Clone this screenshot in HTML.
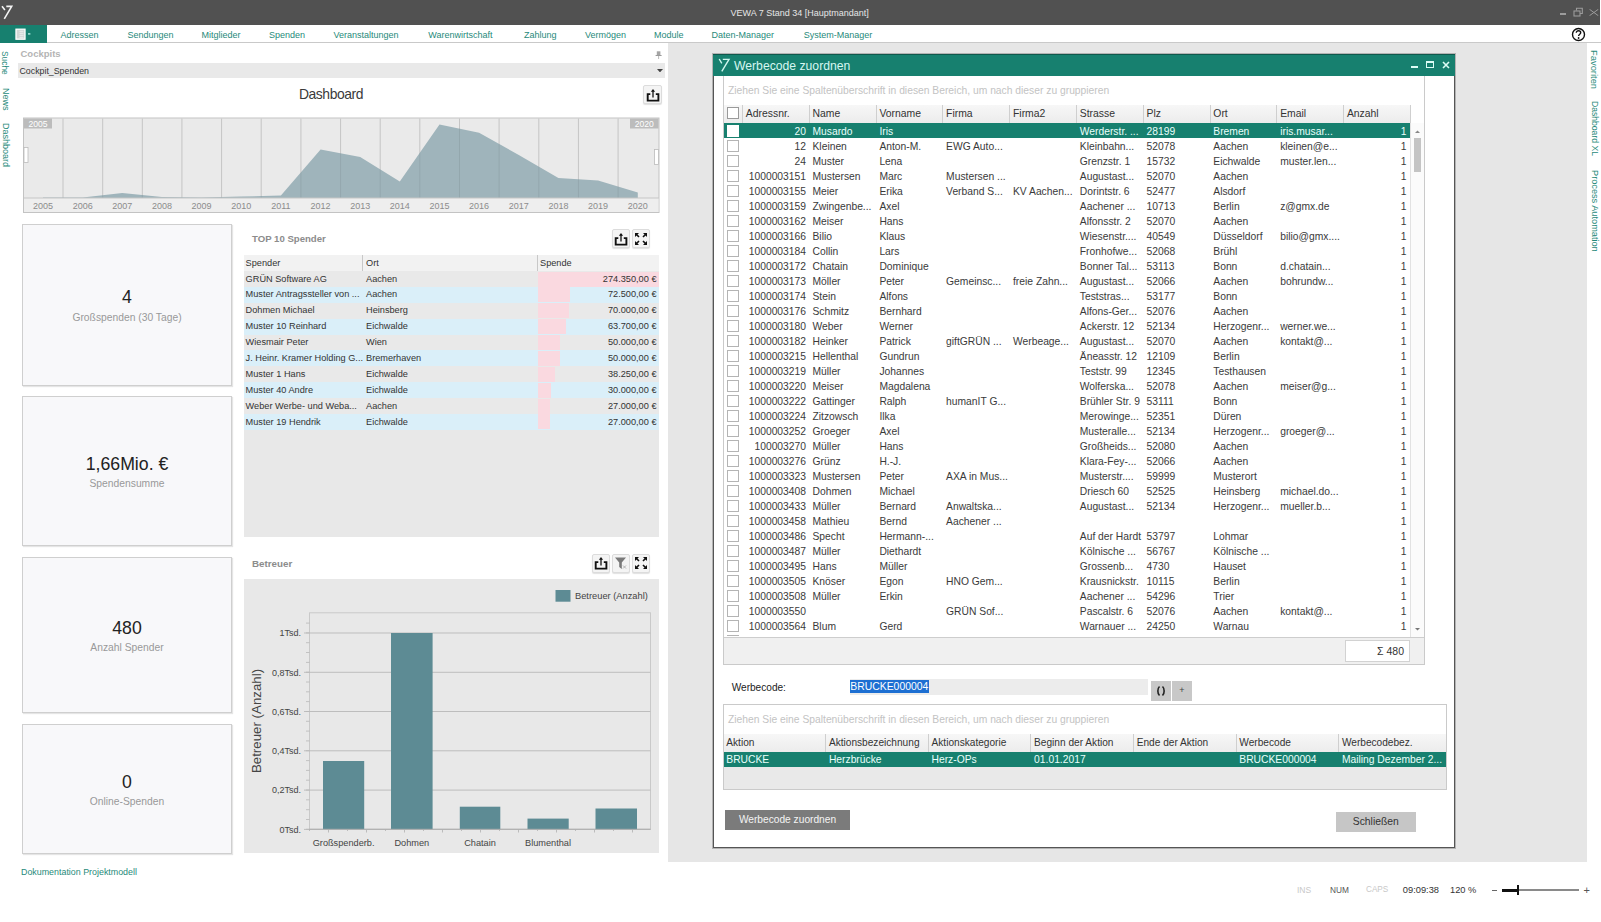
<!DOCTYPE html><html><head><meta charset="utf-8"><title>VEWA</title><style>
*{margin:0;padding:0;box-sizing:border-box}
html,body{width:1601px;height:922px;overflow:hidden;background:#fff;font-family:"Liberation Sans",sans-serif;color:#333}
.a{position:absolute}
.t{position:absolute;white-space:nowrap;line-height:1}
.vt{position:absolute;writing-mode:vertical-rl;white-space:nowrap;line-height:1;color:#1f8a7a}
</style></head><body>
<div class="a" style="left:0;top:0;width:1600px;height:24.5px;background:#515151"></div>
<div class="t" style="left:730.5px;top:8.5px;font-size:9px;color:#e6e6e6">VEWA 7 Stand 34 [Hauptmandant]</div>
<div class="a" style="left:0;top:24.5px;width:1601px;height:18.5px;background:#fff;border-bottom:1px solid #c9c9c9"></div>
<div class="a" style="left:0;top:24.5px;width:46.5px;height:18px;background:#17806f"></div>
<div class="t" style="left:60.5px;top:31px;font-size:9px;color:#1f8a7a">Adressen</div>
<div class="t" style="left:127.4px;top:31px;font-size:9px;color:#1f8a7a">Sendungen</div>
<div class="t" style="left:201.4px;top:31px;font-size:9px;color:#1f8a7a">Mitglieder</div>
<div class="t" style="left:268.9px;top:31px;font-size:9px;color:#1f8a7a">Spenden</div>
<div class="t" style="left:333.4px;top:31px;font-size:9px;color:#1f8a7a">Veranstaltungen</div>
<div class="t" style="left:428.3px;top:31px;font-size:9px;color:#1f8a7a">Warenwirtschaft</div>
<div class="t" style="left:524px;top:31px;font-size:9px;color:#1f8a7a">Zahlung</div>
<div class="t" style="left:585px;top:31px;font-size:9px;color:#1f8a7a">Vermögen</div>
<div class="t" style="left:654px;top:31px;font-size:9px;color:#1f8a7a">Module</div>
<div class="t" style="left:711.5px;top:31px;font-size:9px;color:#1f8a7a">Daten-Manager</div>
<div class="t" style="left:803.7px;top:31px;font-size:9px;color:#1f8a7a">System-Manager</div>
<div class="a" style="left:668px;top:43px;width:918.5px;height:819px;background:#e6e6e6"></div>
<div class="vt" style="left:0.8px;top:50.5px;font-size:8.4px">Suche</div>
<div class="vt" style="left:0.8px;top:88px;font-size:9px">News</div>
<div class="vt" style="left:0.8px;top:122.5px;font-size:9px">Dashboard</div>
<div class="t" style="left:20.5px;top:49px;font-size:9.5px;font-weight:bold;color:#b4b4b4">Cockpits</div>
<svg class="a" style="left:654.5px;top:51px" width="7" height="8" viewBox="0 0 7 8"><rect x="1.8" y="0.3" width="3.6" height="3.8" fill="#a4a4a4"/><rect x="0.6" y="4" width="6" height="1" fill="#9a9a9a"/><rect x="3.1" y="5" width="1" height="3" fill="#bbb"/></svg>
<div class="a" style="left:18px;top:63px;width:647px;height:15px;background:#e9e9e9"></div>
<div class="t" style="left:19.5px;top:67px;font-size:8.8px;color:#333">Cockpit_Spenden</div>
<svg class="a" style="left:656.8px;top:68.8px" width="6" height="3.4" viewBox="0 0 6 3.4"><path d="M0 0H6L3 3.4Z" fill="#444"/></svg>
<div class="t" style="left:299px;top:88.3px;font-size:13.9px;letter-spacing:-0.45px;color:#3a3a3a">Dashboard</div>
<div class="a" style="left:643px;top:85px;width:19px;height:19px;background:#f4f4f4;border:1px solid #dcdcdc;border-radius:2px;box-shadow:0 1px 1px rgba(0,0,0,.12)"></div>
<svg class="a" style="left:645.5px;top:87.5px" width="14" height="14" viewBox="0 0 14 14"><path d="M4.3 6.1H1.7V12.6H12.4V6.1H9.8" fill="none" stroke="#111" stroke-width="1.9"/><path d="M7 2.8V9.5" stroke="#111" stroke-width="1.3"/><path d="M4.9 3.7L7 0.9L9.1 3.7Z" fill="#111"/></svg>
<svg class="a" style="left:0;top:0" width="680" height="230" viewBox="0 0 680 230"><rect x="23.5" y="118" width="635.5" height="94.5" fill="#eaeaea" stroke="#c3c3c3" stroke-width="1"/><rect x="24" y="198" width="634.5" height="14" fill="#eeeeee"/><line x1="63.0" y1="118.5" x2="63.0" y2="198" stroke="#d4d4d4" stroke-width="1"/><line x1="102.7" y1="118.5" x2="102.7" y2="198" stroke="#d4d4d4" stroke-width="1"/><line x1="142.3" y1="118.5" x2="142.3" y2="198" stroke="#d4d4d4" stroke-width="1"/><line x1="181.9" y1="118.5" x2="181.9" y2="198" stroke="#d4d4d4" stroke-width="1"/><line x1="221.6" y1="118.5" x2="221.6" y2="198" stroke="#d4d4d4" stroke-width="1"/><line x1="261.2" y1="118.5" x2="261.2" y2="198" stroke="#d4d4d4" stroke-width="1"/><line x1="300.9" y1="118.5" x2="300.9" y2="198" stroke="#d4d4d4" stroke-width="1"/><line x1="340.6" y1="118.5" x2="340.6" y2="198" stroke="#d4d4d4" stroke-width="1"/><line x1="380.2" y1="118.5" x2="380.2" y2="198" stroke="#d4d4d4" stroke-width="1"/><line x1="419.8" y1="118.5" x2="419.8" y2="198" stroke="#d4d4d4" stroke-width="1"/><line x1="459.5" y1="118.5" x2="459.5" y2="198" stroke="#d4d4d4" stroke-width="1"/><line x1="499.1" y1="118.5" x2="499.1" y2="198" stroke="#d4d4d4" stroke-width="1"/><line x1="538.8" y1="118.5" x2="538.8" y2="198" stroke="#d4d4d4" stroke-width="1"/><line x1="578.4" y1="118.5" x2="578.4" y2="198" stroke="#d4d4d4" stroke-width="1"/><line x1="618.1" y1="118.5" x2="618.1" y2="198" stroke="#d4d4d4" stroke-width="1"/><polygon points="43.0,198 43.0,197.5 82.7,197.5 122.3,193 161.9,197 201.6,197.5 241.2,196.5 280.9,195.5 320.6,149.4 360.2,157 399.8,181.6 439.5,124.6 479.1,132.7 518.8,155 558.4,178 598.1,180.4 637.8,192.5 637.8,198" fill="#9fb4bb"/><line x1="63.0" y1="118.5" x2="63.0" y2="198" stroke="rgba(0,0,0,0.07)" stroke-width="1"/><line x1="102.7" y1="118.5" x2="102.7" y2="198" stroke="rgba(0,0,0,0.07)" stroke-width="1"/><line x1="142.3" y1="118.5" x2="142.3" y2="198" stroke="rgba(0,0,0,0.07)" stroke-width="1"/><line x1="181.9" y1="118.5" x2="181.9" y2="198" stroke="rgba(0,0,0,0.07)" stroke-width="1"/><line x1="221.6" y1="118.5" x2="221.6" y2="198" stroke="rgba(0,0,0,0.07)" stroke-width="1"/><line x1="261.2" y1="118.5" x2="261.2" y2="198" stroke="rgba(0,0,0,0.07)" stroke-width="1"/><line x1="300.9" y1="118.5" x2="300.9" y2="198" stroke="rgba(0,0,0,0.07)" stroke-width="1"/><line x1="340.6" y1="118.5" x2="340.6" y2="198" stroke="rgba(0,0,0,0.07)" stroke-width="1"/><line x1="380.2" y1="118.5" x2="380.2" y2="198" stroke="rgba(0,0,0,0.07)" stroke-width="1"/><line x1="419.8" y1="118.5" x2="419.8" y2="198" stroke="rgba(0,0,0,0.07)" stroke-width="1"/><line x1="459.5" y1="118.5" x2="459.5" y2="198" stroke="rgba(0,0,0,0.07)" stroke-width="1"/><line x1="499.1" y1="118.5" x2="499.1" y2="198" stroke="rgba(0,0,0,0.07)" stroke-width="1"/><line x1="538.8" y1="118.5" x2="538.8" y2="198" stroke="rgba(0,0,0,0.07)" stroke-width="1"/><line x1="578.4" y1="118.5" x2="578.4" y2="198" stroke="rgba(0,0,0,0.07)" stroke-width="1"/><line x1="618.1" y1="118.5" x2="618.1" y2="198" stroke="rgba(0,0,0,0.07)" stroke-width="1"/><line x1="24" y1="198" x2="659" y2="198" stroke="#c6c6c6" stroke-width="1.2"/><rect x="24" y="118.5" width="28" height="10" fill="#bcbcbc"/><rect x="630" y="118.5" width="28.5" height="10" fill="#bcbcbc"/><text x="38" y="126.8" font-size="8.6" fill="#fff" text-anchor="middle" font-family="Liberation Sans">2005</text><text x="644.3" y="126.8" font-size="8.6" fill="#fff" text-anchor="middle" font-family="Liberation Sans">2020</text><text x="43.0" y="208.5" font-size="9" fill="#8c8c8c" text-anchor="middle" font-family="Liberation Sans">2005</text><text x="82.7" y="208.5" font-size="9" fill="#8c8c8c" text-anchor="middle" font-family="Liberation Sans">2006</text><text x="122.3" y="208.5" font-size="9" fill="#8c8c8c" text-anchor="middle" font-family="Liberation Sans">2007</text><text x="161.9" y="208.5" font-size="9" fill="#8c8c8c" text-anchor="middle" font-family="Liberation Sans">2008</text><text x="201.6" y="208.5" font-size="9" fill="#8c8c8c" text-anchor="middle" font-family="Liberation Sans">2009</text><text x="241.2" y="208.5" font-size="9" fill="#8c8c8c" text-anchor="middle" font-family="Liberation Sans">2010</text><text x="280.9" y="208.5" font-size="9" fill="#8c8c8c" text-anchor="middle" font-family="Liberation Sans">2011</text><text x="320.6" y="208.5" font-size="9" fill="#8c8c8c" text-anchor="middle" font-family="Liberation Sans">2012</text><text x="360.2" y="208.5" font-size="9" fill="#8c8c8c" text-anchor="middle" font-family="Liberation Sans">2013</text><text x="399.8" y="208.5" font-size="9" fill="#8c8c8c" text-anchor="middle" font-family="Liberation Sans">2014</text><text x="439.5" y="208.5" font-size="9" fill="#8c8c8c" text-anchor="middle" font-family="Liberation Sans">2015</text><text x="479.1" y="208.5" font-size="9" fill="#8c8c8c" text-anchor="middle" font-family="Liberation Sans">2016</text><text x="518.8" y="208.5" font-size="9" fill="#8c8c8c" text-anchor="middle" font-family="Liberation Sans">2017</text><text x="558.4" y="208.5" font-size="9" fill="#8c8c8c" text-anchor="middle" font-family="Liberation Sans">2018</text><text x="598.1" y="208.5" font-size="9" fill="#8c8c8c" text-anchor="middle" font-family="Liberation Sans">2019</text><text x="637.8" y="208.5" font-size="9" fill="#8c8c8c" text-anchor="middle" font-family="Liberation Sans">2020</text><rect x="24" y="147.5" width="4" height="15" fill="#fff" stroke="#bbb" stroke-width="0.8"/><rect x="654.5" y="149.5" width="4" height="15" fill="#fff" stroke="#bbb" stroke-width="0.8"/></svg>
<div class="a" style="left:22px;top:223.5px;width:210px;height:162.0px;background:#f8f8fa;border:1px solid #cfcfcf;box-shadow:1px 1px 1px rgba(0,0,0,.10)"></div>
<div class="t" style="left:22px;width:210px;text-align:center;top:289.3px;font-size:17.7px;color:#222">4</div>
<div class="t" style="left:22px;width:210px;text-align:center;top:312.5px;font-size:10.3px;color:#999">Großspenden (30 Tage)</div>
<div class="a" style="left:22px;top:396px;width:210px;height:150px;background:#f8f8fa;border:1px solid #cfcfcf;box-shadow:1px 1px 1px rgba(0,0,0,.10)"></div>
<div class="t" style="left:22px;width:210px;text-align:center;top:455.8px;font-size:17.7px;color:#222">1,66Mio. €</div>
<div class="t" style="left:22px;width:210px;text-align:center;top:479.0px;font-size:10.3px;color:#999">Spendensumme</div>
<div class="a" style="left:22px;top:557px;width:210px;height:156px;background:#f8f8fa;border:1px solid #cfcfcf;box-shadow:1px 1px 1px rgba(0,0,0,.10)"></div>
<div class="t" style="left:22px;width:210px;text-align:center;top:619.8px;font-size:17.7px;color:#222">480</div>
<div class="t" style="left:22px;width:210px;text-align:center;top:643.0px;font-size:10.3px;color:#999">Anzahl Spender</div>
<div class="a" style="left:22px;top:724px;width:210px;height:130px;background:#f8f8fa;border:1px solid #cfcfcf;box-shadow:1px 1px 1px rgba(0,0,0,.10)"></div>
<div class="t" style="left:22px;width:210px;text-align:center;top:773.8px;font-size:17.7px;color:#222">0</div>
<div class="t" style="left:22px;width:210px;text-align:center;top:797.0px;font-size:10.3px;color:#999">Online-Spenden</div>
<div class="t" style="left:252px;top:234px;font-size:9.6px;font-weight:bold;color:#8c8c8c">TOP 10 Spender</div>
<div class="a" style="left:611.5px;top:229px;width:18px;height:19px;background:#f4f4f4;border:1px solid #dcdcdc;border-radius:2px;box-shadow:0 1px 1px rgba(0,0,0,.12)"></div>
<svg class="a" style="left:613.5px;top:231.5px" width="14" height="14" viewBox="0 0 14 14"><path d="M4.3 6.1H1.7V12.6H12.4V6.1H9.8" fill="none" stroke="#111" stroke-width="1.9"/><path d="M7 2.8V9.5" stroke="#111" stroke-width="1.3"/><path d="M4.9 3.7L7 0.9L9.1 3.7Z" fill="#111"/></svg>
<div class="a" style="left:631.5px;top:229px;width:18px;height:19px;background:#f4f4f4;border:1px solid #dcdcdc;border-radius:2px;box-shadow:0 1px 1px rgba(0,0,0,.12)"></div>
<svg class="a" style="left:633.5px;top:231.5px" width="14" height="14" viewBox="0 0 14 14" fill="#111"><path d="M1 1H5L1 5Z"/><path d="M13 1H9L13 5Z"/><path d="M1 13H5L1 9Z"/><path d="M13 13H9L13 9Z"/><path d="M2 2L5 5M12 2L9 5M2 12L5 9M12 12L9 9" stroke="#111" stroke-width="1.6"/></svg>
<div class="a" style="left:243.5px;top:254.5px;width:415.5px;height:282.5px;background:#e8e8e8"></div>
<div class="a" style="left:243.5px;top:254.5px;width:415.5px;height:16.5px;background:#f2f2f2"></div>
<div class="a" style="left:362px;top:255px;width:1px;height:16px;background:#c8c8c8"></div>
<div class="a" style="left:537px;top:255px;width:1px;height:16px;background:#c8c8c8"></div>
<div class="t" style="left:245.6px;top:258.5px;font-size:9.2px;color:#333">Spender</div>
<div class="t" style="left:366px;top:258.5px;font-size:9.2px;color:#333">Ort</div>
<div class="t" style="left:540px;top:258.5px;font-size:9.2px;color:#333">Spende</div>
<div class="a" style="left:243.5px;top:271.0px;width:415.5px;height:15.9px;background:#e9e9e9"></div>
<div class="a" style="left:538px;top:271.5px;width:121.0px;height:15px;background:#fad9e0"></div>
<div class="t" style="left:245.6px;top:274.6px;font-size:9.2px;color:#333">GRÜN Software AG</div>
<div class="t" style="left:366px;top:274.6px;font-size:9.2px;color:#333">Aachen</div>
<div class="t" style="left:537px;width:119.5px;text-align:right;top:274.6px;font-size:9.2px;color:#333">274.350,00 €</div>
<div class="a" style="left:243.5px;top:286.88px;width:415.5px;height:15.9px;background:#daeff9"></div>
<div class="a" style="left:538px;top:287.38px;width:32.2px;height:15px;background:#fad9e0"></div>
<div class="t" style="left:245.6px;top:290.48px;font-size:9.2px;color:#333">Muster Antragssteller von ...</div>
<div class="t" style="left:366px;top:290.48px;font-size:9.2px;color:#333">Aachen</div>
<div class="t" style="left:537px;width:119.5px;text-align:right;top:290.48px;font-size:9.2px;color:#333">72.500,00 €</div>
<div class="a" style="left:243.5px;top:302.76px;width:415.5px;height:15.9px;background:#e9e9e9"></div>
<div class="a" style="left:538px;top:303.26px;width:31.1px;height:15px;background:#fad9e0"></div>
<div class="t" style="left:245.6px;top:306.36px;font-size:9.2px;color:#333">Dohmen Michael</div>
<div class="t" style="left:366px;top:306.36px;font-size:9.2px;color:#333">Heinsberg</div>
<div class="t" style="left:537px;width:119.5px;text-align:right;top:306.36px;font-size:9.2px;color:#333">70.000,00 €</div>
<div class="a" style="left:243.5px;top:318.64px;width:415.5px;height:15.9px;background:#daeff9"></div>
<div class="a" style="left:538px;top:319.14px;width:28.3px;height:15px;background:#fad9e0"></div>
<div class="t" style="left:245.6px;top:322.24px;font-size:9.2px;color:#333">Muster 10 Reinhard</div>
<div class="t" style="left:366px;top:322.24px;font-size:9.2px;color:#333">Eichwalde</div>
<div class="t" style="left:537px;width:119.5px;text-align:right;top:322.24px;font-size:9.2px;color:#333">63.700,00 €</div>
<div class="a" style="left:243.5px;top:334.52px;width:415.5px;height:15.9px;background:#e9e9e9"></div>
<div class="a" style="left:538px;top:335.02px;width:22.2px;height:15px;background:#fad9e0"></div>
<div class="t" style="left:245.6px;top:338.12px;font-size:9.2px;color:#333">Wiesmair Peter</div>
<div class="t" style="left:366px;top:338.12px;font-size:9.2px;color:#333">Wien</div>
<div class="t" style="left:537px;width:119.5px;text-align:right;top:338.12px;font-size:9.2px;color:#333">50.000,00 €</div>
<div class="a" style="left:243.5px;top:350.4px;width:415.5px;height:15.9px;background:#daeff9"></div>
<div class="a" style="left:538px;top:350.9px;width:22.2px;height:15px;background:#fad9e0"></div>
<div class="t" style="left:245.6px;top:354.0px;font-size:9.2px;color:#333">J. Heinr. Kramer Holding G...</div>
<div class="t" style="left:366px;top:354.0px;font-size:9.2px;color:#333">Bremerhaven</div>
<div class="t" style="left:537px;width:119.5px;text-align:right;top:354.0px;font-size:9.2px;color:#333">50.000,00 €</div>
<div class="a" style="left:243.5px;top:366.28px;width:415.5px;height:15.9px;background:#e9e9e9"></div>
<div class="a" style="left:538px;top:366.78px;width:17.0px;height:15px;background:#fad9e0"></div>
<div class="t" style="left:245.6px;top:369.88px;font-size:9.2px;color:#333">Muster 1 Hans</div>
<div class="t" style="left:366px;top:369.88px;font-size:9.2px;color:#333">Eichwalde</div>
<div class="t" style="left:537px;width:119.5px;text-align:right;top:369.88px;font-size:9.2px;color:#333">38.250,00 €</div>
<div class="a" style="left:243.5px;top:382.16px;width:415.5px;height:15.9px;background:#daeff9"></div>
<div class="a" style="left:538px;top:382.66px;width:13.3px;height:15px;background:#fad9e0"></div>
<div class="t" style="left:245.6px;top:385.76000000000005px;font-size:9.2px;color:#333">Muster 40 Andre</div>
<div class="t" style="left:366px;top:385.76000000000005px;font-size:9.2px;color:#333">Eichwalde</div>
<div class="t" style="left:537px;width:119.5px;text-align:right;top:385.76000000000005px;font-size:9.2px;color:#333">30.000,00 €</div>
<div class="a" style="left:243.5px;top:398.04px;width:415.5px;height:15.9px;background:#e9e9e9"></div>
<div class="a" style="left:538px;top:398.54px;width:12.0px;height:15px;background:#fad9e0"></div>
<div class="t" style="left:245.6px;top:401.64000000000004px;font-size:9.2px;color:#333">Weber Werbe- und Weba...</div>
<div class="t" style="left:366px;top:401.64000000000004px;font-size:9.2px;color:#333">Aachen</div>
<div class="t" style="left:537px;width:119.5px;text-align:right;top:401.64000000000004px;font-size:9.2px;color:#333">27.000,00 €</div>
<div class="a" style="left:243.5px;top:413.92px;width:415.5px;height:15.9px;background:#daeff9"></div>
<div class="a" style="left:538px;top:414.42px;width:12.0px;height:15px;background:#fad9e0"></div>
<div class="t" style="left:245.6px;top:417.52000000000004px;font-size:9.2px;color:#333">Muster 19 Hendrik</div>
<div class="t" style="left:366px;top:417.52000000000004px;font-size:9.2px;color:#333">Eichwalde</div>
<div class="t" style="left:537px;width:119.5px;text-align:right;top:417.52000000000004px;font-size:9.2px;color:#333">27.000,00 €</div>
<div class="t" style="left:252px;top:559px;font-size:9.8px;font-weight:bold;color:#8c8c8c">Betreuer</div>
<div class="a" style="left:591.5px;top:553.5px;width:18px;height:19px;background:#f4f4f4;border:1px solid #dcdcdc;border-radius:2px;box-shadow:0 1px 1px rgba(0,0,0,.12)"></div>
<svg class="a" style="left:593.5px;top:556.0px" width="14" height="14" viewBox="0 0 14 14"><path d="M4.3 6.1H1.7V12.6H12.4V6.1H9.8" fill="none" stroke="#111" stroke-width="1.9"/><path d="M7 2.8V9.5" stroke="#111" stroke-width="1.3"/><path d="M4.9 3.7L7 0.9L9.1 3.7Z" fill="#111"/></svg>
<div class="a" style="left:611.5px;top:553.5px;width:18px;height:19px;background:#f4f4f4;border:1px solid #dcdcdc;border-radius:2px;box-shadow:0 1px 1px rgba(0,0,0,.12)"></div>
<svg class="a" style="left:613.5px;top:556.0px" width="14" height="14" viewBox="0 0 14 14"><path d="M1 1.5H12L7.8 6.5V13L5.2 11V6.5Z" fill="#7a7a7a"/><path d="M9 9.5L12 12.5M12 9.5L9 12.5" stroke="#aaa" stroke-width="0.9"/></svg>
<div class="a" style="left:631.5px;top:553.5px;width:18px;height:19px;background:#f4f4f4;border:1px solid #dcdcdc;border-radius:2px;box-shadow:0 1px 1px rgba(0,0,0,.12)"></div>
<svg class="a" style="left:633.5px;top:556.0px" width="14" height="14" viewBox="0 0 14 14" fill="#111"><path d="M1 1H5L1 5Z"/><path d="M13 1H9L13 5Z"/><path d="M1 13H5L1 9Z"/><path d="M13 13H9L13 9Z"/><path d="M2 2L5 5M12 2L9 5M2 12L5 9M12 12L9 9" stroke="#111" stroke-width="1.6"/></svg>
<div class="a" style="left:243.5px;top:579.3px;width:415.5px;height:273.5px;background:#e8e8e8"></div>
<svg class="a" style="left:243px;top:579px" width="417" height="275" viewBox="243 579 417 275"><rect x="555.5" y="590" width="15" height="11.7" fill="#5d8b94"/><text x="575" y="599.3" font-size="9.3" fill="#444" font-family="Liberation Sans">Betreuer (Anzahl)</text><rect x="309.5" y="612.8" width="341" height="216.5" fill="none" stroke="#c9c9c9" stroke-width="1"/><line x1="304" y1="633.0" x2="650.5" y2="633.0" stroke="#bdbdbd" stroke-width="1"/><text x="301" y="636.2" font-size="9" fill="#444" text-anchor="end" font-family="Liberation Sans">1Tsd.</text><line x1="304" y1="672.3" x2="650.5" y2="672.3" stroke="#bdbdbd" stroke-width="1"/><text x="301" y="675.5" font-size="9" fill="#444" text-anchor="end" font-family="Liberation Sans">0,8Tsd.</text><line x1="304" y1="711.5" x2="650.5" y2="711.5" stroke="#bdbdbd" stroke-width="1"/><text x="301" y="714.7" font-size="9" fill="#444" text-anchor="end" font-family="Liberation Sans">0,6Tsd.</text><line x1="304" y1="750.8" x2="650.5" y2="750.8" stroke="#bdbdbd" stroke-width="1"/><text x="301" y="754.0" font-size="9" fill="#444" text-anchor="end" font-family="Liberation Sans">0,4Tsd.</text><line x1="304" y1="790.1" x2="650.5" y2="790.1" stroke="#bdbdbd" stroke-width="1"/><text x="301" y="793.3" font-size="9" fill="#444" text-anchor="end" font-family="Liberation Sans">0,2Tsd.</text><line x1="304" y1="829.4" x2="650.5" y2="829.4" stroke="#bdbdbd" stroke-width="1"/><text x="301" y="832.6" font-size="9" fill="#444" text-anchor="end" font-family="Liberation Sans">0Tsd.</text><line x1="306" y1="829.3" x2="309.5" y2="829.3" stroke="#b8b8b8" stroke-width="0.8"/><line x1="306" y1="819.5" x2="309.5" y2="819.5" stroke="#b8b8b8" stroke-width="0.8"/><line x1="306" y1="809.7" x2="309.5" y2="809.7" stroke="#b8b8b8" stroke-width="0.8"/><line x1="306" y1="799.8" x2="309.5" y2="799.8" stroke="#b8b8b8" stroke-width="0.8"/><line x1="306" y1="790.0" x2="309.5" y2="790.0" stroke="#b8b8b8" stroke-width="0.8"/><line x1="306" y1="780.2" x2="309.5" y2="780.2" stroke="#b8b8b8" stroke-width="0.8"/><line x1="306" y1="770.4" x2="309.5" y2="770.4" stroke="#b8b8b8" stroke-width="0.8"/><line x1="306" y1="760.6" x2="309.5" y2="760.6" stroke="#b8b8b8" stroke-width="0.8"/><line x1="306" y1="750.7" x2="309.5" y2="750.7" stroke="#b8b8b8" stroke-width="0.8"/><line x1="306" y1="740.9" x2="309.5" y2="740.9" stroke="#b8b8b8" stroke-width="0.8"/><line x1="306" y1="731.1" x2="309.5" y2="731.1" stroke="#b8b8b8" stroke-width="0.8"/><line x1="306" y1="721.3" x2="309.5" y2="721.3" stroke="#b8b8b8" stroke-width="0.8"/><line x1="306" y1="711.5" x2="309.5" y2="711.5" stroke="#b8b8b8" stroke-width="0.8"/><line x1="306" y1="701.6" x2="309.5" y2="701.6" stroke="#b8b8b8" stroke-width="0.8"/><line x1="306" y1="691.8" x2="309.5" y2="691.8" stroke="#b8b8b8" stroke-width="0.8"/><line x1="306" y1="682.0" x2="309.5" y2="682.0" stroke="#b8b8b8" stroke-width="0.8"/><line x1="306" y1="672.2" x2="309.5" y2="672.2" stroke="#b8b8b8" stroke-width="0.8"/><line x1="306" y1="662.4" x2="309.5" y2="662.4" stroke="#b8b8b8" stroke-width="0.8"/><line x1="306" y1="652.5" x2="309.5" y2="652.5" stroke="#b8b8b8" stroke-width="0.8"/><line x1="306" y1="642.7" x2="309.5" y2="642.7" stroke="#b8b8b8" stroke-width="0.8"/><line x1="306" y1="632.9" x2="309.5" y2="632.9" stroke="#b8b8b8" stroke-width="0.8"/><line x1="306" y1="623.1" x2="309.5" y2="623.1" stroke="#b8b8b8" stroke-width="0.8"/><line x1="309.5" y1="829.3" x2="309.5" y2="831.0" stroke="#b0b0b0" stroke-width="0.8"/><line x1="328.5" y1="829.3" x2="328.5" y2="832.5" stroke="#b0b0b0" stroke-width="0.8"/><line x1="347.5" y1="829.3" x2="347.5" y2="831.0" stroke="#b0b0b0" stroke-width="0.8"/><line x1="366.5" y1="829.3" x2="366.5" y2="832.5" stroke="#b0b0b0" stroke-width="0.8"/><line x1="385.5" y1="829.3" x2="385.5" y2="831.0" stroke="#b0b0b0" stroke-width="0.8"/><line x1="404.5" y1="829.3" x2="404.5" y2="832.5" stroke="#b0b0b0" stroke-width="0.8"/><line x1="423.5" y1="829.3" x2="423.5" y2="831.0" stroke="#b0b0b0" stroke-width="0.8"/><line x1="442.5" y1="829.3" x2="442.5" y2="832.5" stroke="#b0b0b0" stroke-width="0.8"/><line x1="461.5" y1="829.3" x2="461.5" y2="831.0" stroke="#b0b0b0" stroke-width="0.8"/><line x1="480.5" y1="829.3" x2="480.5" y2="832.5" stroke="#b0b0b0" stroke-width="0.8"/><line x1="499.5" y1="829.3" x2="499.5" y2="831.0" stroke="#b0b0b0" stroke-width="0.8"/><line x1="518.5" y1="829.3" x2="518.5" y2="832.5" stroke="#b0b0b0" stroke-width="0.8"/><line x1="537.5" y1="829.3" x2="537.5" y2="831.0" stroke="#b0b0b0" stroke-width="0.8"/><line x1="556.5" y1="829.3" x2="556.5" y2="832.5" stroke="#b0b0b0" stroke-width="0.8"/><line x1="575.5" y1="829.3" x2="575.5" y2="831.0" stroke="#b0b0b0" stroke-width="0.8"/><line x1="594.5" y1="829.3" x2="594.5" y2="832.5" stroke="#b0b0b0" stroke-width="0.8"/><line x1="613.5" y1="829.3" x2="613.5" y2="831.0" stroke="#b0b0b0" stroke-width="0.8"/><line x1="632.5" y1="829.3" x2="632.5" y2="832.5" stroke="#b0b0b0" stroke-width="0.8"/><rect x="323" y="761" width="41.2" height="68.3" fill="#5d8b94"/><rect x="391" y="633" width="41.6" height="196.3" fill="#5d8b94"/><rect x="459.8" y="806.7" width="40.5" height="22.6" fill="#5d8b94"/><rect x="527.5" y="818.6" width="41.2" height="10.7" fill="#5d8b94"/><rect x="595.5" y="808.5" width="41.5" height="20.8" fill="#5d8b94"/><line x1="309.5" y1="829.3" x2="650.5" y2="829.3" stroke="#b0b0b0" stroke-width="1"/><text x="343.6" y="846" font-size="9.2" fill="#444" text-anchor="middle" font-family="Liberation Sans">Großspenderb.</text><text x="411.8" y="846" font-size="9.2" fill="#444" text-anchor="middle" font-family="Liberation Sans">Dohmen</text><text x="480" y="846" font-size="9.2" fill="#444" text-anchor="middle" font-family="Liberation Sans">Chatain</text><text x="548" y="846" font-size="9.2" fill="#444" text-anchor="middle" font-family="Liberation Sans">Blumenthal</text><text transform="translate(260.5,721) rotate(-90)" font-size="13.3" fill="#444" text-anchor="middle" font-family="Liberation Sans">Betreuer (Anzahl)</text></svg>
<div class="t" style="left:21px;top:867.5px;font-size:8.9px;color:#1f8a7a">Dokumentation Projektmodell</div>
<div class="a" style="left:713px;top:53.5px;width:742px;height:794px;background:#fff;border:1px solid #555;border-top:none;box-shadow:0 0 0 1px rgba(0,0,0,.22)"></div>
<div class="a" style="left:713px;top:53.5px;width:742px;height:22px;background:#17806f;box-shadow:inset 0 1px 0 #10584c"></div>
<svg class="a" style="left:717px;top:57px" width="14" height="15" viewBox="0 0 14 15"><path d="M2.2 2L4.8 6.3M5.8 2.4H12L4.8 14.3" fill="none" stroke="#d0f6ef" stroke-width="1.4"/></svg>
<div class="t" style="left:734px;top:60.3px;font-size:12.2px;color:#d6f7f1">Werbecode zuordnen</div>
<div class="a" style="left:1411px;top:66px;width:6.5px;height:1.8px;background:#dcfcf5"></div>
<div class="a" style="left:1426px;top:61px;width:8px;height:7px;border:1.4px solid #dcfcf5;border-top-width:2px"></div>
<svg class="a" style="left:1441.5px;top:60.5px" width="8" height="8" viewBox="0 0 8 8"><path d="M1 1L7 7M7 1L1 7" stroke="#dcfcf5" stroke-width="1.6"/></svg>
<div class="a" style="left:722.5px;top:75.5px;width:702.2px;height:589px;border:1px solid #cacaca;border-top:none;background:#fff"></div>
<div class="t" style="left:728px;top:85.5px;font-size:10.3px;color:#c3c3c3">Ziehen Sie eine Spaltenüberschrift in diesen Bereich, um nach dieser zu gruppieren</div>
<div class="a" style="left:723.5px;top:104.7px;width:686.5px;height:18.3px;background:linear-gradient(#f7f7f7,#ececec)"></div>
<div class="a" style="left:742.0px;top:105px;width:1px;height:18px;background:#cfcfcf"></div>
<div class="a" style="left:808.8px;top:105px;width:1px;height:18px;background:#cfcfcf"></div>
<div class="a" style="left:875.6px;top:105px;width:1px;height:18px;background:#cfcfcf"></div>
<div class="a" style="left:942.4px;top:105px;width:1px;height:18px;background:#cfcfcf"></div>
<div class="a" style="left:1009.2px;top:105px;width:1px;height:18px;background:#cfcfcf"></div>
<div class="a" style="left:1076.0px;top:105px;width:1px;height:18px;background:#cfcfcf"></div>
<div class="a" style="left:1142.8px;top:105px;width:1px;height:18px;background:#cfcfcf"></div>
<div class="a" style="left:1209.6px;top:105px;width:1px;height:18px;background:#cfcfcf"></div>
<div class="a" style="left:1276.4px;top:105px;width:1px;height:18px;background:#cfcfcf"></div>
<div class="a" style="left:1343.2px;top:105px;width:1px;height:18px;background:#cfcfcf"></div>
<div class="a" style="left:1410.0px;top:105px;width:1px;height:18px;background:#cfcfcf"></div>
<div class="t" style="left:745.8px;top:108.8px;font-size:10.4px;color:#333">Adressnr.</div>
<div class="t" style="left:812.5px;top:108.8px;font-size:10.4px;color:#333">Name</div>
<div class="t" style="left:879.4px;top:108.8px;font-size:10.4px;color:#333">Vorname</div>
<div class="t" style="left:946.1px;top:108.8px;font-size:10.4px;color:#333">Firma</div>
<div class="t" style="left:1013.0px;top:108.8px;font-size:10.4px;color:#333">Firma2</div>
<div class="t" style="left:1079.8px;top:108.8px;font-size:10.4px;color:#333">Strasse</div>
<div class="t" style="left:1146.5px;top:108.8px;font-size:10.4px;color:#333">Plz</div>
<div class="t" style="left:1213.3px;top:108.8px;font-size:10.4px;color:#333">Ort</div>
<div class="t" style="left:1280.2px;top:108.8px;font-size:10.4px;color:#333">Email</div>
<div class="t" style="left:1346.9px;top:108.8px;font-size:10.4px;color:#333">Anzahl</div>
<div class="a" style="left:727px;top:107px;width:11.5px;height:11.5px;background:#fff;border:1px solid #9a9a9a"></div>
<div class="a" style="left:723.5px;top:123px;width:686.5px;height:15px;background:#17806f"></div>
<div class="a" style="left:727px;top:125px;width:11.5px;height:11.5px;background:#fff"></div>
<div class="t" style="left:742px;width:64px;text-align:right;top:123.6px;font-size:10.3px;color:#eafffb;line-height:15px">20</div>
<div class="t" style="left:812.5px;top:123.6px;font-size:10.3px;color:#eafffb;line-height:15px">Musardo</div>
<div class="t" style="left:879.4px;top:123.6px;font-size:10.3px;color:#eafffb;line-height:15px">Iris</div>
<div class="t" style="left:1079.8px;top:123.6px;font-size:10.3px;color:#eafffb;line-height:15px">Werderstr. ...</div>
<div class="t" style="left:1146.5px;top:123.6px;font-size:10.3px;color:#eafffb;line-height:15px">28199</div>
<div class="t" style="left:1213.3px;top:123.6px;font-size:10.3px;color:#eafffb;line-height:15px">Bremen</div>
<div class="t" style="left:1280.2px;top:123.6px;font-size:10.3px;color:#eafffb;line-height:15px">iris.musar...</div>
<div class="t" style="left:1342px;width:64.5px;text-align:right;top:123.6px;font-size:10.3px;color:#eafffb;line-height:15px">1</div>
<div class="a" style="left:727px;top:140px;width:11.5px;height:11.5px;background:#fff;border:1px solid #b4b4b4"></div>
<div class="t" style="left:742px;width:64px;text-align:right;top:138.6px;font-size:10.3px;color:#3a3a3a;line-height:15px">12</div>
<div class="t" style="left:812.5px;top:138.6px;font-size:10.3px;color:#3a3a3a;line-height:15px">Kleinen</div>
<div class="t" style="left:879.4px;top:138.6px;font-size:10.3px;color:#3a3a3a;line-height:15px">Anton-M.</div>
<div class="t" style="left:946.1px;top:138.6px;font-size:10.3px;color:#3a3a3a;line-height:15px">EWG Auto...</div>
<div class="t" style="left:1079.8px;top:138.6px;font-size:10.3px;color:#3a3a3a;line-height:15px">Kleinbahn...</div>
<div class="t" style="left:1146.5px;top:138.6px;font-size:10.3px;color:#3a3a3a;line-height:15px">52078</div>
<div class="t" style="left:1213.3px;top:138.6px;font-size:10.3px;color:#3a3a3a;line-height:15px">Aachen</div>
<div class="t" style="left:1280.2px;top:138.6px;font-size:10.3px;color:#3a3a3a;line-height:15px">kleinen@e...</div>
<div class="t" style="left:1342px;width:64.5px;text-align:right;top:138.6px;font-size:10.3px;color:#3a3a3a;line-height:15px">1</div>
<div class="a" style="left:727px;top:155px;width:11.5px;height:11.5px;background:#fff;border:1px solid #b4b4b4"></div>
<div class="t" style="left:742px;width:64px;text-align:right;top:153.6px;font-size:10.3px;color:#3a3a3a;line-height:15px">24</div>
<div class="t" style="left:812.5px;top:153.6px;font-size:10.3px;color:#3a3a3a;line-height:15px">Muster</div>
<div class="t" style="left:879.4px;top:153.6px;font-size:10.3px;color:#3a3a3a;line-height:15px">Lena</div>
<div class="t" style="left:1079.8px;top:153.6px;font-size:10.3px;color:#3a3a3a;line-height:15px">Grenzstr. 1</div>
<div class="t" style="left:1146.5px;top:153.6px;font-size:10.3px;color:#3a3a3a;line-height:15px">15732</div>
<div class="t" style="left:1213.3px;top:153.6px;font-size:10.3px;color:#3a3a3a;line-height:15px">Eichwalde</div>
<div class="t" style="left:1280.2px;top:153.6px;font-size:10.3px;color:#3a3a3a;line-height:15px">muster.len...</div>
<div class="t" style="left:1342px;width:64.5px;text-align:right;top:153.6px;font-size:10.3px;color:#3a3a3a;line-height:15px">1</div>
<div class="a" style="left:727px;top:170px;width:11.5px;height:11.5px;background:#fff;border:1px solid #b4b4b4"></div>
<div class="t" style="left:742px;width:64px;text-align:right;top:168.6px;font-size:10.3px;color:#3a3a3a;line-height:15px">1000003151</div>
<div class="t" style="left:812.5px;top:168.6px;font-size:10.3px;color:#3a3a3a;line-height:15px">Mustersen</div>
<div class="t" style="left:879.4px;top:168.6px;font-size:10.3px;color:#3a3a3a;line-height:15px">Marc</div>
<div class="t" style="left:946.1px;top:168.6px;font-size:10.3px;color:#3a3a3a;line-height:15px">Mustersen ...</div>
<div class="t" style="left:1079.8px;top:168.6px;font-size:10.3px;color:#3a3a3a;line-height:15px">Augustast...</div>
<div class="t" style="left:1146.5px;top:168.6px;font-size:10.3px;color:#3a3a3a;line-height:15px">52070</div>
<div class="t" style="left:1213.3px;top:168.6px;font-size:10.3px;color:#3a3a3a;line-height:15px">Aachen</div>
<div class="t" style="left:1342px;width:64.5px;text-align:right;top:168.6px;font-size:10.3px;color:#3a3a3a;line-height:15px">1</div>
<div class="a" style="left:727px;top:185px;width:11.5px;height:11.5px;background:#fff;border:1px solid #b4b4b4"></div>
<div class="t" style="left:742px;width:64px;text-align:right;top:183.6px;font-size:10.3px;color:#3a3a3a;line-height:15px">1000003155</div>
<div class="t" style="left:812.5px;top:183.6px;font-size:10.3px;color:#3a3a3a;line-height:15px">Meier</div>
<div class="t" style="left:879.4px;top:183.6px;font-size:10.3px;color:#3a3a3a;line-height:15px">Erika</div>
<div class="t" style="left:946.1px;top:183.6px;font-size:10.3px;color:#3a3a3a;line-height:15px">Verband S...</div>
<div class="t" style="left:1013.0px;top:183.6px;font-size:10.3px;color:#3a3a3a;line-height:15px">KV Aachen...</div>
<div class="t" style="left:1079.8px;top:183.6px;font-size:10.3px;color:#3a3a3a;line-height:15px">Dorintstr. 6</div>
<div class="t" style="left:1146.5px;top:183.6px;font-size:10.3px;color:#3a3a3a;line-height:15px">52477</div>
<div class="t" style="left:1213.3px;top:183.6px;font-size:10.3px;color:#3a3a3a;line-height:15px">Alsdorf</div>
<div class="t" style="left:1342px;width:64.5px;text-align:right;top:183.6px;font-size:10.3px;color:#3a3a3a;line-height:15px">1</div>
<div class="a" style="left:727px;top:200px;width:11.5px;height:11.5px;background:#fff;border:1px solid #b4b4b4"></div>
<div class="t" style="left:742px;width:64px;text-align:right;top:198.6px;font-size:10.3px;color:#3a3a3a;line-height:15px">1000003159</div>
<div class="t" style="left:812.5px;top:198.6px;font-size:10.3px;color:#3a3a3a;line-height:15px">Zwingenbe...</div>
<div class="t" style="left:879.4px;top:198.6px;font-size:10.3px;color:#3a3a3a;line-height:15px">Axel</div>
<div class="t" style="left:1079.8px;top:198.6px;font-size:10.3px;color:#3a3a3a;line-height:15px">Aachener ...</div>
<div class="t" style="left:1146.5px;top:198.6px;font-size:10.3px;color:#3a3a3a;line-height:15px">10713</div>
<div class="t" style="left:1213.3px;top:198.6px;font-size:10.3px;color:#3a3a3a;line-height:15px">Berlin</div>
<div class="t" style="left:1280.2px;top:198.6px;font-size:10.3px;color:#3a3a3a;line-height:15px">z@gmx.de</div>
<div class="t" style="left:1342px;width:64.5px;text-align:right;top:198.6px;font-size:10.3px;color:#3a3a3a;line-height:15px">1</div>
<div class="a" style="left:727px;top:215px;width:11.5px;height:11.5px;background:#fff;border:1px solid #b4b4b4"></div>
<div class="t" style="left:742px;width:64px;text-align:right;top:213.6px;font-size:10.3px;color:#3a3a3a;line-height:15px">1000003162</div>
<div class="t" style="left:812.5px;top:213.6px;font-size:10.3px;color:#3a3a3a;line-height:15px">Meiser</div>
<div class="t" style="left:879.4px;top:213.6px;font-size:10.3px;color:#3a3a3a;line-height:15px">Hans</div>
<div class="t" style="left:1079.8px;top:213.6px;font-size:10.3px;color:#3a3a3a;line-height:15px">Alfonsstr. 2</div>
<div class="t" style="left:1146.5px;top:213.6px;font-size:10.3px;color:#3a3a3a;line-height:15px">52070</div>
<div class="t" style="left:1213.3px;top:213.6px;font-size:10.3px;color:#3a3a3a;line-height:15px">Aachen</div>
<div class="t" style="left:1342px;width:64.5px;text-align:right;top:213.6px;font-size:10.3px;color:#3a3a3a;line-height:15px">1</div>
<div class="a" style="left:727px;top:230px;width:11.5px;height:11.5px;background:#fff;border:1px solid #b4b4b4"></div>
<div class="t" style="left:742px;width:64px;text-align:right;top:228.6px;font-size:10.3px;color:#3a3a3a;line-height:15px">1000003166</div>
<div class="t" style="left:812.5px;top:228.6px;font-size:10.3px;color:#3a3a3a;line-height:15px">Bilio</div>
<div class="t" style="left:879.4px;top:228.6px;font-size:10.3px;color:#3a3a3a;line-height:15px">Klaus</div>
<div class="t" style="left:1079.8px;top:228.6px;font-size:10.3px;color:#3a3a3a;line-height:15px">Wiesenstr....</div>
<div class="t" style="left:1146.5px;top:228.6px;font-size:10.3px;color:#3a3a3a;line-height:15px">40549</div>
<div class="t" style="left:1213.3px;top:228.6px;font-size:10.3px;color:#3a3a3a;line-height:15px">Düsseldorf</div>
<div class="t" style="left:1280.2px;top:228.6px;font-size:10.3px;color:#3a3a3a;line-height:15px">bilio@gmx....</div>
<div class="t" style="left:1342px;width:64.5px;text-align:right;top:228.6px;font-size:10.3px;color:#3a3a3a;line-height:15px">1</div>
<div class="a" style="left:727px;top:245px;width:11.5px;height:11.5px;background:#fff;border:1px solid #b4b4b4"></div>
<div class="t" style="left:742px;width:64px;text-align:right;top:243.6px;font-size:10.3px;color:#3a3a3a;line-height:15px">1000003184</div>
<div class="t" style="left:812.5px;top:243.6px;font-size:10.3px;color:#3a3a3a;line-height:15px">Collin</div>
<div class="t" style="left:879.4px;top:243.6px;font-size:10.3px;color:#3a3a3a;line-height:15px">Lars</div>
<div class="t" style="left:1079.8px;top:243.6px;font-size:10.3px;color:#3a3a3a;line-height:15px">Fronhofwe...</div>
<div class="t" style="left:1146.5px;top:243.6px;font-size:10.3px;color:#3a3a3a;line-height:15px">52068</div>
<div class="t" style="left:1213.3px;top:243.6px;font-size:10.3px;color:#3a3a3a;line-height:15px">Brühl</div>
<div class="t" style="left:1342px;width:64.5px;text-align:right;top:243.6px;font-size:10.3px;color:#3a3a3a;line-height:15px">1</div>
<div class="a" style="left:727px;top:260px;width:11.5px;height:11.5px;background:#fff;border:1px solid #b4b4b4"></div>
<div class="t" style="left:742px;width:64px;text-align:right;top:258.6px;font-size:10.3px;color:#3a3a3a;line-height:15px">1000003172</div>
<div class="t" style="left:812.5px;top:258.6px;font-size:10.3px;color:#3a3a3a;line-height:15px">Chatain</div>
<div class="t" style="left:879.4px;top:258.6px;font-size:10.3px;color:#3a3a3a;line-height:15px">Dominique</div>
<div class="t" style="left:1079.8px;top:258.6px;font-size:10.3px;color:#3a3a3a;line-height:15px">Bonner Tal...</div>
<div class="t" style="left:1146.5px;top:258.6px;font-size:10.3px;color:#3a3a3a;line-height:15px">53113</div>
<div class="t" style="left:1213.3px;top:258.6px;font-size:10.3px;color:#3a3a3a;line-height:15px">Bonn</div>
<div class="t" style="left:1280.2px;top:258.6px;font-size:10.3px;color:#3a3a3a;line-height:15px">d.chatain...</div>
<div class="t" style="left:1342px;width:64.5px;text-align:right;top:258.6px;font-size:10.3px;color:#3a3a3a;line-height:15px">1</div>
<div class="a" style="left:727px;top:275px;width:11.5px;height:11.5px;background:#fff;border:1px solid #b4b4b4"></div>
<div class="t" style="left:742px;width:64px;text-align:right;top:273.6px;font-size:10.3px;color:#3a3a3a;line-height:15px">1000003173</div>
<div class="t" style="left:812.5px;top:273.6px;font-size:10.3px;color:#3a3a3a;line-height:15px">Möller</div>
<div class="t" style="left:879.4px;top:273.6px;font-size:10.3px;color:#3a3a3a;line-height:15px">Peter</div>
<div class="t" style="left:946.1px;top:273.6px;font-size:10.3px;color:#3a3a3a;line-height:15px">Gemeinsc...</div>
<div class="t" style="left:1013.0px;top:273.6px;font-size:10.3px;color:#3a3a3a;line-height:15px">freie Zahn...</div>
<div class="t" style="left:1079.8px;top:273.6px;font-size:10.3px;color:#3a3a3a;line-height:15px">Augustast...</div>
<div class="t" style="left:1146.5px;top:273.6px;font-size:10.3px;color:#3a3a3a;line-height:15px">52066</div>
<div class="t" style="left:1213.3px;top:273.6px;font-size:10.3px;color:#3a3a3a;line-height:15px">Aachen</div>
<div class="t" style="left:1280.2px;top:273.6px;font-size:10.3px;color:#3a3a3a;line-height:15px">bohrundw...</div>
<div class="t" style="left:1342px;width:64.5px;text-align:right;top:273.6px;font-size:10.3px;color:#3a3a3a;line-height:15px">1</div>
<div class="a" style="left:727px;top:290px;width:11.5px;height:11.5px;background:#fff;border:1px solid #b4b4b4"></div>
<div class="t" style="left:742px;width:64px;text-align:right;top:288.6px;font-size:10.3px;color:#3a3a3a;line-height:15px">1000003174</div>
<div class="t" style="left:812.5px;top:288.6px;font-size:10.3px;color:#3a3a3a;line-height:15px">Stein</div>
<div class="t" style="left:879.4px;top:288.6px;font-size:10.3px;color:#3a3a3a;line-height:15px">Alfons</div>
<div class="t" style="left:1079.8px;top:288.6px;font-size:10.3px;color:#3a3a3a;line-height:15px">Teststras...</div>
<div class="t" style="left:1146.5px;top:288.6px;font-size:10.3px;color:#3a3a3a;line-height:15px">53177</div>
<div class="t" style="left:1213.3px;top:288.6px;font-size:10.3px;color:#3a3a3a;line-height:15px">Bonn</div>
<div class="t" style="left:1342px;width:64.5px;text-align:right;top:288.6px;font-size:10.3px;color:#3a3a3a;line-height:15px">1</div>
<div class="a" style="left:727px;top:305px;width:11.5px;height:11.5px;background:#fff;border:1px solid #b4b4b4"></div>
<div class="t" style="left:742px;width:64px;text-align:right;top:303.6px;font-size:10.3px;color:#3a3a3a;line-height:15px">1000003176</div>
<div class="t" style="left:812.5px;top:303.6px;font-size:10.3px;color:#3a3a3a;line-height:15px">Schmitz</div>
<div class="t" style="left:879.4px;top:303.6px;font-size:10.3px;color:#3a3a3a;line-height:15px">Bernhard</div>
<div class="t" style="left:1079.8px;top:303.6px;font-size:10.3px;color:#3a3a3a;line-height:15px">Alfons-Ger...</div>
<div class="t" style="left:1146.5px;top:303.6px;font-size:10.3px;color:#3a3a3a;line-height:15px">52076</div>
<div class="t" style="left:1213.3px;top:303.6px;font-size:10.3px;color:#3a3a3a;line-height:15px">Aachen</div>
<div class="t" style="left:1342px;width:64.5px;text-align:right;top:303.6px;font-size:10.3px;color:#3a3a3a;line-height:15px">1</div>
<div class="a" style="left:727px;top:320px;width:11.5px;height:11.5px;background:#fff;border:1px solid #b4b4b4"></div>
<div class="t" style="left:742px;width:64px;text-align:right;top:318.6px;font-size:10.3px;color:#3a3a3a;line-height:15px">1000003180</div>
<div class="t" style="left:812.5px;top:318.6px;font-size:10.3px;color:#3a3a3a;line-height:15px">Weber</div>
<div class="t" style="left:879.4px;top:318.6px;font-size:10.3px;color:#3a3a3a;line-height:15px">Werner</div>
<div class="t" style="left:1079.8px;top:318.6px;font-size:10.3px;color:#3a3a3a;line-height:15px">Ackerstr. 12</div>
<div class="t" style="left:1146.5px;top:318.6px;font-size:10.3px;color:#3a3a3a;line-height:15px">52134</div>
<div class="t" style="left:1213.3px;top:318.6px;font-size:10.3px;color:#3a3a3a;line-height:15px">Herzogenr...</div>
<div class="t" style="left:1280.2px;top:318.6px;font-size:10.3px;color:#3a3a3a;line-height:15px">werner.we...</div>
<div class="t" style="left:1342px;width:64.5px;text-align:right;top:318.6px;font-size:10.3px;color:#3a3a3a;line-height:15px">1</div>
<div class="a" style="left:727px;top:335px;width:11.5px;height:11.5px;background:#fff;border:1px solid #b4b4b4"></div>
<div class="t" style="left:742px;width:64px;text-align:right;top:333.6px;font-size:10.3px;color:#3a3a3a;line-height:15px">1000003182</div>
<div class="t" style="left:812.5px;top:333.6px;font-size:10.3px;color:#3a3a3a;line-height:15px">Heinker</div>
<div class="t" style="left:879.4px;top:333.6px;font-size:10.3px;color:#3a3a3a;line-height:15px">Patrick</div>
<div class="t" style="left:946.1px;top:333.6px;font-size:10.3px;color:#3a3a3a;line-height:15px">giftGRÜN ...</div>
<div class="t" style="left:1013.0px;top:333.6px;font-size:10.3px;color:#3a3a3a;line-height:15px">Werbeage...</div>
<div class="t" style="left:1079.8px;top:333.6px;font-size:10.3px;color:#3a3a3a;line-height:15px">Augustast...</div>
<div class="t" style="left:1146.5px;top:333.6px;font-size:10.3px;color:#3a3a3a;line-height:15px">52070</div>
<div class="t" style="left:1213.3px;top:333.6px;font-size:10.3px;color:#3a3a3a;line-height:15px">Aachen</div>
<div class="t" style="left:1280.2px;top:333.6px;font-size:10.3px;color:#3a3a3a;line-height:15px">kontakt@...</div>
<div class="t" style="left:1342px;width:64.5px;text-align:right;top:333.6px;font-size:10.3px;color:#3a3a3a;line-height:15px">1</div>
<div class="a" style="left:727px;top:350px;width:11.5px;height:11.5px;background:#fff;border:1px solid #b4b4b4"></div>
<div class="t" style="left:742px;width:64px;text-align:right;top:348.6px;font-size:10.3px;color:#3a3a3a;line-height:15px">1000003215</div>
<div class="t" style="left:812.5px;top:348.6px;font-size:10.3px;color:#3a3a3a;line-height:15px">Hellenthal</div>
<div class="t" style="left:879.4px;top:348.6px;font-size:10.3px;color:#3a3a3a;line-height:15px">Gundrun</div>
<div class="t" style="left:1079.8px;top:348.6px;font-size:10.3px;color:#3a3a3a;line-height:15px">Äneasstr. 12</div>
<div class="t" style="left:1146.5px;top:348.6px;font-size:10.3px;color:#3a3a3a;line-height:15px">12109</div>
<div class="t" style="left:1213.3px;top:348.6px;font-size:10.3px;color:#3a3a3a;line-height:15px">Berlin</div>
<div class="t" style="left:1342px;width:64.5px;text-align:right;top:348.6px;font-size:10.3px;color:#3a3a3a;line-height:15px">1</div>
<div class="a" style="left:727px;top:365px;width:11.5px;height:11.5px;background:#fff;border:1px solid #b4b4b4"></div>
<div class="t" style="left:742px;width:64px;text-align:right;top:363.6px;font-size:10.3px;color:#3a3a3a;line-height:15px">1000003219</div>
<div class="t" style="left:812.5px;top:363.6px;font-size:10.3px;color:#3a3a3a;line-height:15px">Müller</div>
<div class="t" style="left:879.4px;top:363.6px;font-size:10.3px;color:#3a3a3a;line-height:15px">Johannes</div>
<div class="t" style="left:1079.8px;top:363.6px;font-size:10.3px;color:#3a3a3a;line-height:15px">Teststr. 99</div>
<div class="t" style="left:1146.5px;top:363.6px;font-size:10.3px;color:#3a3a3a;line-height:15px">12345</div>
<div class="t" style="left:1213.3px;top:363.6px;font-size:10.3px;color:#3a3a3a;line-height:15px">Testhausen</div>
<div class="t" style="left:1342px;width:64.5px;text-align:right;top:363.6px;font-size:10.3px;color:#3a3a3a;line-height:15px">1</div>
<div class="a" style="left:727px;top:380px;width:11.5px;height:11.5px;background:#fff;border:1px solid #b4b4b4"></div>
<div class="t" style="left:742px;width:64px;text-align:right;top:378.6px;font-size:10.3px;color:#3a3a3a;line-height:15px">1000003220</div>
<div class="t" style="left:812.5px;top:378.6px;font-size:10.3px;color:#3a3a3a;line-height:15px">Meiser</div>
<div class="t" style="left:879.4px;top:378.6px;font-size:10.3px;color:#3a3a3a;line-height:15px">Magdalena</div>
<div class="t" style="left:1079.8px;top:378.6px;font-size:10.3px;color:#3a3a3a;line-height:15px">Wolferska...</div>
<div class="t" style="left:1146.5px;top:378.6px;font-size:10.3px;color:#3a3a3a;line-height:15px">52078</div>
<div class="t" style="left:1213.3px;top:378.6px;font-size:10.3px;color:#3a3a3a;line-height:15px">Aachen</div>
<div class="t" style="left:1280.2px;top:378.6px;font-size:10.3px;color:#3a3a3a;line-height:15px">meiser@g...</div>
<div class="t" style="left:1342px;width:64.5px;text-align:right;top:378.6px;font-size:10.3px;color:#3a3a3a;line-height:15px">1</div>
<div class="a" style="left:727px;top:395px;width:11.5px;height:11.5px;background:#fff;border:1px solid #b4b4b4"></div>
<div class="t" style="left:742px;width:64px;text-align:right;top:393.6px;font-size:10.3px;color:#3a3a3a;line-height:15px">1000003222</div>
<div class="t" style="left:812.5px;top:393.6px;font-size:10.3px;color:#3a3a3a;line-height:15px">Gattinger</div>
<div class="t" style="left:879.4px;top:393.6px;font-size:10.3px;color:#3a3a3a;line-height:15px">Ralph</div>
<div class="t" style="left:946.1px;top:393.6px;font-size:10.3px;color:#3a3a3a;line-height:15px">humanIT G...</div>
<div class="t" style="left:1079.8px;top:393.6px;font-size:10.3px;color:#3a3a3a;line-height:15px">Brühler Str. 9</div>
<div class="t" style="left:1146.5px;top:393.6px;font-size:10.3px;color:#3a3a3a;line-height:15px">53111</div>
<div class="t" style="left:1213.3px;top:393.6px;font-size:10.3px;color:#3a3a3a;line-height:15px">Bonn</div>
<div class="t" style="left:1342px;width:64.5px;text-align:right;top:393.6px;font-size:10.3px;color:#3a3a3a;line-height:15px">1</div>
<div class="a" style="left:727px;top:410px;width:11.5px;height:11.5px;background:#fff;border:1px solid #b4b4b4"></div>
<div class="t" style="left:742px;width:64px;text-align:right;top:408.6px;font-size:10.3px;color:#3a3a3a;line-height:15px">1000003224</div>
<div class="t" style="left:812.5px;top:408.6px;font-size:10.3px;color:#3a3a3a;line-height:15px">Zitzowsch</div>
<div class="t" style="left:879.4px;top:408.6px;font-size:10.3px;color:#3a3a3a;line-height:15px">Ilka</div>
<div class="t" style="left:1079.8px;top:408.6px;font-size:10.3px;color:#3a3a3a;line-height:15px">Merowinge...</div>
<div class="t" style="left:1146.5px;top:408.6px;font-size:10.3px;color:#3a3a3a;line-height:15px">52351</div>
<div class="t" style="left:1213.3px;top:408.6px;font-size:10.3px;color:#3a3a3a;line-height:15px">Düren</div>
<div class="t" style="left:1342px;width:64.5px;text-align:right;top:408.6px;font-size:10.3px;color:#3a3a3a;line-height:15px">1</div>
<div class="a" style="left:727px;top:425px;width:11.5px;height:11.5px;background:#fff;border:1px solid #b4b4b4"></div>
<div class="t" style="left:742px;width:64px;text-align:right;top:423.6px;font-size:10.3px;color:#3a3a3a;line-height:15px">1000003252</div>
<div class="t" style="left:812.5px;top:423.6px;font-size:10.3px;color:#3a3a3a;line-height:15px">Groeger</div>
<div class="t" style="left:879.4px;top:423.6px;font-size:10.3px;color:#3a3a3a;line-height:15px">Axel</div>
<div class="t" style="left:1079.8px;top:423.6px;font-size:10.3px;color:#3a3a3a;line-height:15px">Musteralle...</div>
<div class="t" style="left:1146.5px;top:423.6px;font-size:10.3px;color:#3a3a3a;line-height:15px">52134</div>
<div class="t" style="left:1213.3px;top:423.6px;font-size:10.3px;color:#3a3a3a;line-height:15px">Herzogenr...</div>
<div class="t" style="left:1280.2px;top:423.6px;font-size:10.3px;color:#3a3a3a;line-height:15px">groeger@...</div>
<div class="t" style="left:1342px;width:64.5px;text-align:right;top:423.6px;font-size:10.3px;color:#3a3a3a;line-height:15px">1</div>
<div class="a" style="left:727px;top:440px;width:11.5px;height:11.5px;background:#fff;border:1px solid #b4b4b4"></div>
<div class="t" style="left:742px;width:64px;text-align:right;top:438.6px;font-size:10.3px;color:#3a3a3a;line-height:15px">100003270</div>
<div class="t" style="left:812.5px;top:438.6px;font-size:10.3px;color:#3a3a3a;line-height:15px">Müller</div>
<div class="t" style="left:879.4px;top:438.6px;font-size:10.3px;color:#3a3a3a;line-height:15px">Hans</div>
<div class="t" style="left:1079.8px;top:438.6px;font-size:10.3px;color:#3a3a3a;line-height:15px">Großheids...</div>
<div class="t" style="left:1146.5px;top:438.6px;font-size:10.3px;color:#3a3a3a;line-height:15px">52080</div>
<div class="t" style="left:1213.3px;top:438.6px;font-size:10.3px;color:#3a3a3a;line-height:15px">Aachen</div>
<div class="t" style="left:1342px;width:64.5px;text-align:right;top:438.6px;font-size:10.3px;color:#3a3a3a;line-height:15px">1</div>
<div class="a" style="left:727px;top:455px;width:11.5px;height:11.5px;background:#fff;border:1px solid #b4b4b4"></div>
<div class="t" style="left:742px;width:64px;text-align:right;top:453.6px;font-size:10.3px;color:#3a3a3a;line-height:15px">1000003276</div>
<div class="t" style="left:812.5px;top:453.6px;font-size:10.3px;color:#3a3a3a;line-height:15px">Grünz</div>
<div class="t" style="left:879.4px;top:453.6px;font-size:10.3px;color:#3a3a3a;line-height:15px">H.-J.</div>
<div class="t" style="left:1079.8px;top:453.6px;font-size:10.3px;color:#3a3a3a;line-height:15px">Klara-Fey-...</div>
<div class="t" style="left:1146.5px;top:453.6px;font-size:10.3px;color:#3a3a3a;line-height:15px">52066</div>
<div class="t" style="left:1213.3px;top:453.6px;font-size:10.3px;color:#3a3a3a;line-height:15px">Aachen</div>
<div class="t" style="left:1342px;width:64.5px;text-align:right;top:453.6px;font-size:10.3px;color:#3a3a3a;line-height:15px">1</div>
<div class="a" style="left:727px;top:470px;width:11.5px;height:11.5px;background:#fff;border:1px solid #b4b4b4"></div>
<div class="t" style="left:742px;width:64px;text-align:right;top:468.6px;font-size:10.3px;color:#3a3a3a;line-height:15px">1000003323</div>
<div class="t" style="left:812.5px;top:468.6px;font-size:10.3px;color:#3a3a3a;line-height:15px">Mustersen</div>
<div class="t" style="left:879.4px;top:468.6px;font-size:10.3px;color:#3a3a3a;line-height:15px">Peter</div>
<div class="t" style="left:946.1px;top:468.6px;font-size:10.3px;color:#3a3a3a;line-height:15px">AXA in Mus...</div>
<div class="t" style="left:1079.8px;top:468.6px;font-size:10.3px;color:#3a3a3a;line-height:15px">Musterstr....</div>
<div class="t" style="left:1146.5px;top:468.6px;font-size:10.3px;color:#3a3a3a;line-height:15px">59999</div>
<div class="t" style="left:1213.3px;top:468.6px;font-size:10.3px;color:#3a3a3a;line-height:15px">Musterort</div>
<div class="t" style="left:1342px;width:64.5px;text-align:right;top:468.6px;font-size:10.3px;color:#3a3a3a;line-height:15px">1</div>
<div class="a" style="left:727px;top:485px;width:11.5px;height:11.5px;background:#fff;border:1px solid #b4b4b4"></div>
<div class="t" style="left:742px;width:64px;text-align:right;top:483.6px;font-size:10.3px;color:#3a3a3a;line-height:15px">1000003408</div>
<div class="t" style="left:812.5px;top:483.6px;font-size:10.3px;color:#3a3a3a;line-height:15px">Dohmen</div>
<div class="t" style="left:879.4px;top:483.6px;font-size:10.3px;color:#3a3a3a;line-height:15px">Michael</div>
<div class="t" style="left:1079.8px;top:483.6px;font-size:10.3px;color:#3a3a3a;line-height:15px">Driesch 60</div>
<div class="t" style="left:1146.5px;top:483.6px;font-size:10.3px;color:#3a3a3a;line-height:15px">52525</div>
<div class="t" style="left:1213.3px;top:483.6px;font-size:10.3px;color:#3a3a3a;line-height:15px">Heinsberg</div>
<div class="t" style="left:1280.2px;top:483.6px;font-size:10.3px;color:#3a3a3a;line-height:15px">michael.do...</div>
<div class="t" style="left:1342px;width:64.5px;text-align:right;top:483.6px;font-size:10.3px;color:#3a3a3a;line-height:15px">1</div>
<div class="a" style="left:727px;top:500px;width:11.5px;height:11.5px;background:#fff;border:1px solid #b4b4b4"></div>
<div class="t" style="left:742px;width:64px;text-align:right;top:498.6px;font-size:10.3px;color:#3a3a3a;line-height:15px">1000003433</div>
<div class="t" style="left:812.5px;top:498.6px;font-size:10.3px;color:#3a3a3a;line-height:15px">Müller</div>
<div class="t" style="left:879.4px;top:498.6px;font-size:10.3px;color:#3a3a3a;line-height:15px">Bernard</div>
<div class="t" style="left:946.1px;top:498.6px;font-size:10.3px;color:#3a3a3a;line-height:15px">Anwaltska...</div>
<div class="t" style="left:1079.8px;top:498.6px;font-size:10.3px;color:#3a3a3a;line-height:15px">Augustast...</div>
<div class="t" style="left:1146.5px;top:498.6px;font-size:10.3px;color:#3a3a3a;line-height:15px">52134</div>
<div class="t" style="left:1213.3px;top:498.6px;font-size:10.3px;color:#3a3a3a;line-height:15px">Herzogenr...</div>
<div class="t" style="left:1280.2px;top:498.6px;font-size:10.3px;color:#3a3a3a;line-height:15px">mueller.b...</div>
<div class="t" style="left:1342px;width:64.5px;text-align:right;top:498.6px;font-size:10.3px;color:#3a3a3a;line-height:15px">1</div>
<div class="a" style="left:727px;top:515px;width:11.5px;height:11.5px;background:#fff;border:1px solid #b4b4b4"></div>
<div class="t" style="left:742px;width:64px;text-align:right;top:513.6px;font-size:10.3px;color:#3a3a3a;line-height:15px">1000003458</div>
<div class="t" style="left:812.5px;top:513.6px;font-size:10.3px;color:#3a3a3a;line-height:15px">Mathieu</div>
<div class="t" style="left:879.4px;top:513.6px;font-size:10.3px;color:#3a3a3a;line-height:15px">Bernd</div>
<div class="t" style="left:946.1px;top:513.6px;font-size:10.3px;color:#3a3a3a;line-height:15px">Aachener ...</div>
<div class="t" style="left:1342px;width:64.5px;text-align:right;top:513.6px;font-size:10.3px;color:#3a3a3a;line-height:15px">1</div>
<div class="a" style="left:727px;top:530px;width:11.5px;height:11.5px;background:#fff;border:1px solid #b4b4b4"></div>
<div class="t" style="left:742px;width:64px;text-align:right;top:528.6px;font-size:10.3px;color:#3a3a3a;line-height:15px">1000003486</div>
<div class="t" style="left:812.5px;top:528.6px;font-size:10.3px;color:#3a3a3a;line-height:15px">Specht</div>
<div class="t" style="left:879.4px;top:528.6px;font-size:10.3px;color:#3a3a3a;line-height:15px">Hermann-...</div>
<div class="t" style="left:1079.8px;top:528.6px;font-size:10.3px;color:#3a3a3a;line-height:15px">Auf der Hardt</div>
<div class="t" style="left:1146.5px;top:528.6px;font-size:10.3px;color:#3a3a3a;line-height:15px">53797</div>
<div class="t" style="left:1213.3px;top:528.6px;font-size:10.3px;color:#3a3a3a;line-height:15px">Lohmar</div>
<div class="t" style="left:1342px;width:64.5px;text-align:right;top:528.6px;font-size:10.3px;color:#3a3a3a;line-height:15px">1</div>
<div class="a" style="left:727px;top:545px;width:11.5px;height:11.5px;background:#fff;border:1px solid #b4b4b4"></div>
<div class="t" style="left:742px;width:64px;text-align:right;top:543.6px;font-size:10.3px;color:#3a3a3a;line-height:15px">1000003487</div>
<div class="t" style="left:812.5px;top:543.6px;font-size:10.3px;color:#3a3a3a;line-height:15px">Müller</div>
<div class="t" style="left:879.4px;top:543.6px;font-size:10.3px;color:#3a3a3a;line-height:15px">Diethardt</div>
<div class="t" style="left:1079.8px;top:543.6px;font-size:10.3px;color:#3a3a3a;line-height:15px">Kölnische ...</div>
<div class="t" style="left:1146.5px;top:543.6px;font-size:10.3px;color:#3a3a3a;line-height:15px">56767</div>
<div class="t" style="left:1213.3px;top:543.6px;font-size:10.3px;color:#3a3a3a;line-height:15px">Kölnische ...</div>
<div class="t" style="left:1342px;width:64.5px;text-align:right;top:543.6px;font-size:10.3px;color:#3a3a3a;line-height:15px">1</div>
<div class="a" style="left:727px;top:560px;width:11.5px;height:11.5px;background:#fff;border:1px solid #b4b4b4"></div>
<div class="t" style="left:742px;width:64px;text-align:right;top:558.6px;font-size:10.3px;color:#3a3a3a;line-height:15px">1000003495</div>
<div class="t" style="left:812.5px;top:558.6px;font-size:10.3px;color:#3a3a3a;line-height:15px">Hans</div>
<div class="t" style="left:879.4px;top:558.6px;font-size:10.3px;color:#3a3a3a;line-height:15px">Müller</div>
<div class="t" style="left:1079.8px;top:558.6px;font-size:10.3px;color:#3a3a3a;line-height:15px">Grossenb...</div>
<div class="t" style="left:1146.5px;top:558.6px;font-size:10.3px;color:#3a3a3a;line-height:15px">4730</div>
<div class="t" style="left:1213.3px;top:558.6px;font-size:10.3px;color:#3a3a3a;line-height:15px">Hauset</div>
<div class="t" style="left:1342px;width:64.5px;text-align:right;top:558.6px;font-size:10.3px;color:#3a3a3a;line-height:15px">1</div>
<div class="a" style="left:727px;top:575px;width:11.5px;height:11.5px;background:#fff;border:1px solid #b4b4b4"></div>
<div class="t" style="left:742px;width:64px;text-align:right;top:573.6px;font-size:10.3px;color:#3a3a3a;line-height:15px">1000003505</div>
<div class="t" style="left:812.5px;top:573.6px;font-size:10.3px;color:#3a3a3a;line-height:15px">Knöser</div>
<div class="t" style="left:879.4px;top:573.6px;font-size:10.3px;color:#3a3a3a;line-height:15px">Egon</div>
<div class="t" style="left:946.1px;top:573.6px;font-size:10.3px;color:#3a3a3a;line-height:15px">HNO Gem...</div>
<div class="t" style="left:1079.8px;top:573.6px;font-size:10.3px;color:#3a3a3a;line-height:15px">Krausnickstr.</div>
<div class="t" style="left:1146.5px;top:573.6px;font-size:10.3px;color:#3a3a3a;line-height:15px">10115</div>
<div class="t" style="left:1213.3px;top:573.6px;font-size:10.3px;color:#3a3a3a;line-height:15px">Berlin</div>
<div class="t" style="left:1342px;width:64.5px;text-align:right;top:573.6px;font-size:10.3px;color:#3a3a3a;line-height:15px">1</div>
<div class="a" style="left:727px;top:590px;width:11.5px;height:11.5px;background:#fff;border:1px solid #b4b4b4"></div>
<div class="t" style="left:742px;width:64px;text-align:right;top:588.6px;font-size:10.3px;color:#3a3a3a;line-height:15px">1000003508</div>
<div class="t" style="left:812.5px;top:588.6px;font-size:10.3px;color:#3a3a3a;line-height:15px">Müller</div>
<div class="t" style="left:879.4px;top:588.6px;font-size:10.3px;color:#3a3a3a;line-height:15px">Erkin</div>
<div class="t" style="left:1079.8px;top:588.6px;font-size:10.3px;color:#3a3a3a;line-height:15px">Aachener ...</div>
<div class="t" style="left:1146.5px;top:588.6px;font-size:10.3px;color:#3a3a3a;line-height:15px">54296</div>
<div class="t" style="left:1213.3px;top:588.6px;font-size:10.3px;color:#3a3a3a;line-height:15px">Trier</div>
<div class="t" style="left:1342px;width:64.5px;text-align:right;top:588.6px;font-size:10.3px;color:#3a3a3a;line-height:15px">1</div>
<div class="a" style="left:727px;top:605px;width:11.5px;height:11.5px;background:#fff;border:1px solid #b4b4b4"></div>
<div class="t" style="left:742px;width:64px;text-align:right;top:603.6px;font-size:10.3px;color:#3a3a3a;line-height:15px">1000003550</div>
<div class="t" style="left:946.1px;top:603.6px;font-size:10.3px;color:#3a3a3a;line-height:15px">GRÜN Sof...</div>
<div class="t" style="left:1079.8px;top:603.6px;font-size:10.3px;color:#3a3a3a;line-height:15px">Pascalstr. 6</div>
<div class="t" style="left:1146.5px;top:603.6px;font-size:10.3px;color:#3a3a3a;line-height:15px">52076</div>
<div class="t" style="left:1213.3px;top:603.6px;font-size:10.3px;color:#3a3a3a;line-height:15px">Aachen</div>
<div class="t" style="left:1280.2px;top:603.6px;font-size:10.3px;color:#3a3a3a;line-height:15px">kontakt@...</div>
<div class="t" style="left:1342px;width:64.5px;text-align:right;top:603.6px;font-size:10.3px;color:#3a3a3a;line-height:15px">1</div>
<div class="a" style="left:727px;top:620px;width:11.5px;height:11.5px;background:#fff;border:1px solid #b4b4b4"></div>
<div class="t" style="left:742px;width:64px;text-align:right;top:618.6px;font-size:10.3px;color:#3a3a3a;line-height:15px">1000003564</div>
<div class="t" style="left:812.5px;top:618.6px;font-size:10.3px;color:#3a3a3a;line-height:15px">Blum</div>
<div class="t" style="left:879.4px;top:618.6px;font-size:10.3px;color:#3a3a3a;line-height:15px">Gerd</div>
<div class="t" style="left:1079.8px;top:618.6px;font-size:10.3px;color:#3a3a3a;line-height:15px">Warnauer ...</div>
<div class="t" style="left:1146.5px;top:618.6px;font-size:10.3px;color:#3a3a3a;line-height:15px">24250</div>
<div class="t" style="left:1213.3px;top:618.6px;font-size:10.3px;color:#3a3a3a;line-height:15px">Warnau</div>
<div class="t" style="left:1342px;width:64.5px;text-align:right;top:618.6px;font-size:10.3px;color:#3a3a3a;line-height:15px">1</div>
<div class="a" style="left:727px;top:635px;width:11.5px;height:2px;border-top:1px solid #b4b4b4"></div>
<div class="a" style="left:1410px;top:123px;width:14px;height:514px;background:#fbfbfb;border-left:1px solid #e2e2e2"></div>
<svg class="a" style="left:1415px;top:129.5px" width="5" height="3" viewBox="0 0 5 3"><path d="M0 3L2.5 0.5L5 3Z" fill="#888"/></svg>
<svg class="a" style="left:1415px;top:627.5px" width="5" height="3" viewBox="0 0 5 3"><path d="M0 0L2.5 2.5L5 0Z" fill="#777"/></svg>
<div class="a" style="left:1414px;top:138px;width:6.5px;height:34px;background:#c4c4c4"></div>
<div class="a" style="left:723.5px;top:637px;width:700.2px;height:27px;background:#f0f0f0;border-top:1px solid #cdcdcd"></div>
<div class="a" style="left:1344.5px;top:640px;width:65.5px;height:21.5px;background:#fff;border:1px solid #d2d2d2"></div>
<div class="t" style="left:1344px;width:60px;text-align:right;top:645.5px;font-size:10.5px;color:#333">Σ 480</div>
<div class="t" style="left:731.7px;top:683.3px;font-size:10.1px;color:#222">Werbecode:</div>
<div class="a" style="left:850px;top:679px;width:298px;height:15.5px;background:#ececec"></div>
<div class="a" style="left:850.3px;top:680.3px;width:78.3px;height:12.5px;background:#1d6fd2"></div>
<div class="t" style="left:850.3px;top:681.5px;font-size:10.4px;color:#fff">BRUCKE000004</div>
<div class="a" style="left:1151px;top:681px;width:20px;height:20px;background:#c8c8c8"></div>
<div class="a" style="left:1172px;top:681px;width:20px;height:20px;background:#c8c8c8"></div>
<svg class="a" style="left:1155px;top:685px" width="12" height="12" viewBox="0 0 12 12"><path d="M4.5 1.5C2.3 3.5 2.3 8.5 4.5 10.5M7.5 1.5C9.7 3.5 9.7 8.5 7.5 10.5" fill="none" stroke="#222" stroke-width="1.6"/></svg>
<div class="t" style="left:1172px;width:20px;text-align:center;top:686px;font-size:9px;color:#444">+</div>
<div class="a" style="left:722.5px;top:703.5px;width:724px;height:86px;border:1px solid #cacaca;background:#fff"></div>
<div class="t" style="left:728px;top:715px;font-size:10.3px;color:#c3c3c3">Ziehen Sie eine Spaltenüberschrift in diesen Bereich, um nach dieser zu gruppieren</div>
<div class="a" style="left:723.5px;top:733.6px;width:722px;height:18.4px;background:linear-gradient(#f7f7f7,#ececec)"></div>
<div class="t" style="left:726.3px;top:737.5px;font-size:10.15px;color:#333">Aktion</div>
<div class="a" style="left:825.1px;top:734px;width:1px;height:18px;background:#cfcfcf"></div>
<div class="t" style="left:828.9px;top:737.5px;font-size:10.15px;color:#333">Aktionsbezeichnung</div>
<div class="a" style="left:927.7px;top:734px;width:1px;height:18px;background:#cfcfcf"></div>
<div class="t" style="left:931.5px;top:737.5px;font-size:10.15px;color:#333">Aktionskategorie</div>
<div class="a" style="left:1030.3px;top:734px;width:1px;height:18px;background:#cfcfcf"></div>
<div class="t" style="left:1034.1px;top:737.5px;font-size:10.15px;color:#333">Beginn der Aktion</div>
<div class="a" style="left:1132.9px;top:734px;width:1px;height:18px;background:#cfcfcf"></div>
<div class="t" style="left:1136.7px;top:737.5px;font-size:10.15px;color:#333">Ende der Aktion</div>
<div class="a" style="left:1235.5px;top:734px;width:1px;height:18px;background:#cfcfcf"></div>
<div class="t" style="left:1239.3px;top:737.5px;font-size:10.15px;color:#333">Werbecode</div>
<div class="a" style="left:1338.1px;top:734px;width:1px;height:18px;background:#cfcfcf"></div>
<div class="t" style="left:1341.9px;top:737.5px;font-size:10.15px;color:#333">Werbecodebez.</div>
<div class="a" style="left:723.5px;top:752px;width:722px;height:15px;background:#17806f"></div>
<div class="t" style="left:726.3px;top:752px;line-height:15px;font-size:10.3px;color:#eafffb">BRUCKE</div>
<div class="t" style="left:828.9px;top:752px;line-height:15px;font-size:10.3px;color:#eafffb">Herzbrücke</div>
<div class="t" style="left:931.5px;top:752px;line-height:15px;font-size:10.3px;color:#eafffb">Herz-OPs</div>
<div class="t" style="left:1034.1px;top:752px;line-height:15px;font-size:10.3px;color:#eafffb">01.01.2017</div>
<div class="t" style="left:1239.3px;top:752px;line-height:15px;font-size:10.3px;color:#eafffb">BRUCKE000004</div>
<div class="t" style="left:1341.9px;top:752px;line-height:15px;font-size:10.3px;color:#eafffb">Mailing Dezember 2...</div>
<div class="a" style="left:723.5px;top:767px;width:722px;height:21.5px;background:#e9e9e9"></div>
<div class="a" style="left:725px;top:810.4px;width:125px;height:19.6px;background:#7b7b7b"></div>
<div class="t" style="left:725px;width:125px;text-align:center;top:815px;font-size:10.2px;color:#f4f4f4">Werbecode zuordnen</div>
<div class="a" style="left:1336px;top:812.3px;width:79.6px;height:19.5px;background:#c6c6c6"></div>
<div class="t" style="left:1336px;width:79.6px;text-align:center;top:816.8px;font-size:10.35px;color:#333">Schließen</div>
<div class="vt" style="left:1590px;top:49.5px;font-size:9.4px">Favoriten</div>
<div class="vt" style="left:1590px;top:100.6px;font-size:8.6px">Dashboard XL</div>
<div class="vt" style="left:1590px;top:169.7px;font-size:9.2px">Process Automation</div>
<svg class="a" style="left:1571px;top:27px" width="15" height="15" viewBox="0 0 15 15"><circle cx="7.5" cy="7.5" r="6" fill="none" stroke="#111" stroke-width="1.4"/><path d="M5.3 5.8C5.3 4.5 6.3 3.8 7.5 3.8C8.8 3.8 9.7 4.6 9.7 5.7C9.7 7.2 7.6 7.3 7.6 9" fill="none" stroke="#111" stroke-width="1.4"/><circle cx="7.6" cy="11" r="0.9" fill="#111"/></svg>
<svg class="a" style="left:0;top:0" width="16" height="22" viewBox="0 0 16 22"><path d="M2 6.2L4.9 10.1M6.3 6.4H11.7L4.3 18.9" fill="none" stroke="#f4f4f4" stroke-width="1.6"/></svg>
<div class="a" style="left:1560px;top:13.2px;width:6px;height:1.5px;background:#9c9c9c"></div>
<svg class="a" style="left:1573px;top:7px" width="10" height="10" viewBox="0 0 10 10"><rect x="1" y="4" width="6" height="5" fill="none" stroke="#9c9c9c" stroke-width="1.1"/><path d="M3.5 3.5V1.2H9.3V6.5H7" fill="none" stroke="#9c9c9c" stroke-width="1.1"/></svg>
<svg class="a" style="left:1589px;top:8.5px" width="10" height="7" viewBox="0 0 10 7"><path d="M0.5 0.3L9.3 6.7M9.3 0.3L0.5 6.7" stroke="#9c9c9c" stroke-width="1"/></svg>
<svg class="a" style="left:14px;top:28px" width="18" height="12" viewBox="0 0 18 12"><rect x="2" y="1.2" width="9" height="10" fill="#cfd6d4" stroke="#fff" stroke-width="1.3"/><path d="M5.5 3.3H9.5M5.5 5.3H9.5M5.5 7.3H9.5M5.5 9.3H9.5" stroke="#fff" stroke-width="0.6"/><rect x="14" y="5.2" width="2.4" height="1.4" fill="#a9e6dc"/></svg>
<div class="t" style="left:1297px;top:886px;font-size:8.5px;color:#c8c8c8">INS</div>
<div class="t" style="left:1330px;top:886px;font-size:8.3px;color:#555">NUM</div>
<div class="t" style="left:1366px;top:886px;font-size:8.2px;color:#c8c8c8">CAPS</div>
<div class="t" style="left:1402.8px;top:886px;font-size:9.3px;color:#333">09:09:38</div>
<div class="t" style="left:1450px;top:886px;font-size:9.3px;color:#333">120 %</div>
<div class="a" style="left:1491.5px;top:889.5px;width:5px;height:1.2px;background:#666"></div>
<div class="a" style="left:1502px;top:889px;width:77px;height:2px;background:#8a8a8a"></div>
<div class="a" style="left:1502px;top:888.5px;width:16px;height:3px;background:#111"></div>
<div class="a" style="left:1516.5px;top:884.5px;width:2.5px;height:10px;background:#111"></div>
<div class="t" style="left:1583.5px;top:884.5px;font-size:11px;color:#555">+</div>
</body></html>
